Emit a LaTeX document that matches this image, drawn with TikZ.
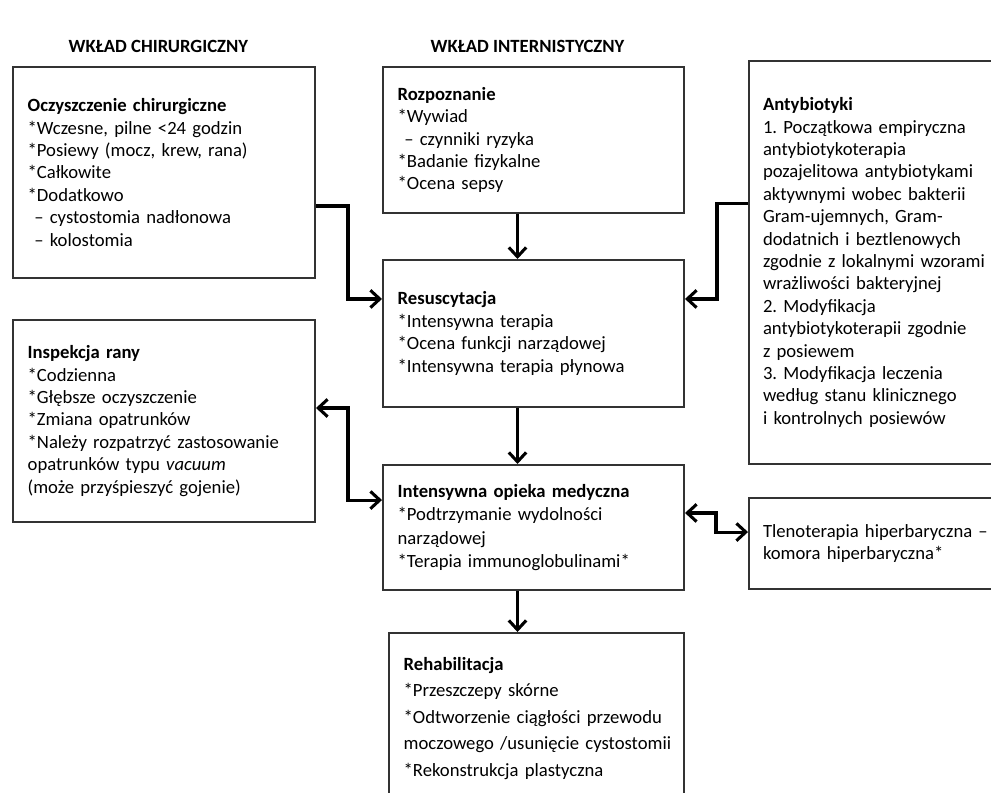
\documentclass[tikz,border=0pt]{standalone}
\usepackage{fontspec}
\setmainfont{Carlito}
\usepackage{tikz}
\usetikzlibrary{arrows.meta,positioning,calc}
\frenchspacing

\begin{document}
\begin{tikzpicture}[
x=0.75pt, y=-0.75pt,
>={Straight Barb[length=7pt,width=13pt]},
box-node/.style = {draw=black!80, line width=1.5pt, anchor=north west, align=left,
  inner xsep=11pt, inner ysep=0pt, font=\fontsize{14}{16.8}\selectfont},
title-node/.style = {anchor=west, font=\bfseries\fontsize{14}{16.8}\selectfont},
link/.style = {line width=2.3pt, ->}
]

\useasboundingbox (0,0) rectangle (991,792);

% headings
\node [title-node] (surg-title) at (64,46) {WKŁAD CHIRURGICZNY};
\node [title-node] (med-title) at (426,46) {WKŁAD INTERNISTYCZNY};

% left column
\node [box-node, text width=204.5pt, minimum height=158.25pt] (surg) at (12,66) {%
\textbf{Oczyszczenie chirurgiczne}\\
{}*Wczesne, pilne <24 godzin\\
{}*Posiewy (mocz, krew, rana)\\
{}*Całkowite\\
{}*Dodatkowo\\
\hspace*{5pt}– cystostomia nadłonowa\\
\hspace*{5pt}– kolostomia};

\node [box-node, text width=204.5pt, minimum height=151.5pt] (insp) at (12,319) {%
\textbf{Inspekcja rany}\\
{}*Codzienna\\
{}*Głębsze oczyszczenie\\
{}*Zmiana opatrunków\\
\mbox{*Należy rozpatrzyć zastosowanie}\\
opatrunków typu \textit{vacuum}\\
(może przyśpieszyć gojenie)};

% middle column
\node [box-node, text width=203.75pt, minimum height=109.5pt] (diag) at (382,66) {%
\textbf{Rozpoznanie}\\
{}*Wywiad\\
\hspace*{5pt}– czynniki ryzyka\\
{}*Badanie fizykalne\\
{}*Ocena sepsy};

\node [box-node, text width=203.75pt, minimum height=110.25pt] (resus) at (382,259) {%
\textbf{Resuscytacja}\\
{}*Intensywna terapia\\
{}*Ocena funkcji narządowej\\
{}*Intensywna terapia płynowa};

\node [box-node, text width=203.75pt, minimum height=93.75pt,
  font=\fontsize{14}{17.6}\selectfont] (icu) at (382,464) {%
\textbf{Intensywna opieka medyczna}\\
{}*Podtrzymanie wydolności\\
narządowej\\
{}*Terapia immunoglobulinami*};

\node [box-node, text width=199.25pt, inner ysep=18pt,
  font=\fontsize{14}{19.9}\selectfont] (rehab) at (388,632) {%
\textbf{Rehabilitacja}\\
{}*Przeszczepy skórne\\
{}*Odtworzenie ciągłości przewodu\\
\mbox{moczowego /usunięcie cystostomii}\\
{}*Rekonstrukcja plastyczna};

% right column
\node [box-node, text width=200pt, minimum height=302.25pt, inner xsep=10.5pt] (abx) at (748,60) {%
\textbf{Antybiotyki}\\
1. Początkowa empiryczna\\
antybiotykoterapia\\
pozajelitowa antybiotykami\\
aktywnymi wobec bakterii\\
Gram-ujemnych, Gram-\\
dodatnich i beztlenowych\\
zgodnie z lokalnymi wzorami\\
wrażliwości bakteryjnej\\
2. Modyfikacja\\
antybiotykoterapii zgodnie\\
z posiewem\\
3. Modyfikacja leczenia\\
według stanu klinicznego\\
i kontrolnych posiewów};

\node [box-node, text width=200pt, minimum height=68.25pt, inner xsep=10.5pt] (hbo) at (748,497) {%
Tlenoterapia hiperbaryczna –\\
komora hiperbaryczna*};

% arrows
\draw[link] ([xshift=-12pt]diag.south) -- ([xshift=-12pt]resus.north);
\draw[link] ([xshift=-12pt]resus.south) -- ([xshift=-12pt]icu.north);
\draw[link] ([xshift=-12pt]icu.south) -- ([xshift=-12pt]icu.south |- rehab.north);
\draw[link] ([yshift=-25.1pt]surg.east) -| ([xshift=-25.5pt,yshift=25.9pt]resus.west) -- ([yshift=25.9pt]resus.west);
\draw[link] ([yshift=44.6pt]abx.west) -| ([xshift=24pt,yshift=25.9pt]resus.east) -- ([yshift=25.9pt]resus.east);
\draw[link,<->] ([yshift=9.75pt]insp.east) -| ([xshift=-25.5pt,yshift=20.6pt]icu.west) -- ([yshift=20.6pt]icu.west);
\draw[link,<->] ([yshift=10.9pt]icu.east) -| ([xshift=-24pt,yshift=8.6pt]hbo.west) -- ([yshift=8.6pt]hbo.west);

\end{tikzpicture}
\end{document}
